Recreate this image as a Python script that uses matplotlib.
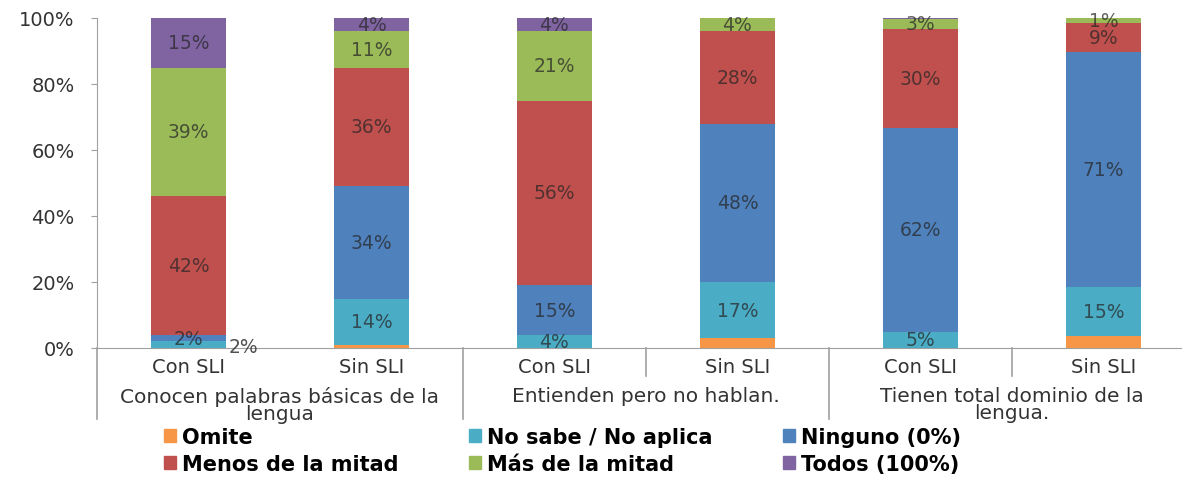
import matplotlib.pyplot as plt
import numpy as np
from matplotlib.patches import Patch

# data
bar_labels = ['Con SLI', 'Sin SLI', 'Con SLI', 'Sin SLI', 'Con SLI', 'Sin SLI']
group_labels = ['Conocen palabras básicas de la\nlengua',
                'Entienden pero no hablan.',
                'Tienen total dominio de la\nlengua.']
series_names = ['Omite', 'No sabe / No aplica', 'Ninguno (0%)',
                'Menos de la mitad', 'Más de la mitad', 'Todos (100%)']
omite = [0, 1, 0, 3, 0, 3.6]
no_sabe = [2, 14, 4, 17, 5, 15]
ninguno = [2, 34, 15, 48, 61.7, 71]
menos = [42, 36, 56, 28, 30, 9]
mas = [39, 11, 21, 4, 3, 1.4]
todos = [15, 4, 4, 0, 0.3, 0]

colors = ['#F79646', '#4BACC6', '#4F81BD', '#C0504D', '#9BBB59', '#8064A2']
series = [omite, no_sabe, ninguno, menos, mas, todos]

plt.rcParams['font.family'] = ['DejaVu Sans']

fig = plt.figure(figsize=(11.82, 4.85), dpi=100)
ax = fig.add_axes([97/1182, 1 - 349/485, 1 - 97/1182, 330/485])

x = np.arange(len(bar_labels))
bottom = np.zeros(len(x))
for k, vals in enumerate(series):
    vals = np.array(vals, dtype=float)
    ax.bar(x, vals, bottom=bottom, width=0.41, color=colors[k], linewidth=0)
    if k > 0:
        for i, v in enumerate(vals):
            if v < 1:
                continue
            if v < 3 and k == 1 and i == 0:
                # small label placed outside the bar
                ax.text(i + 0.3, bottom[i] + v / 2 - 0.6, '%.0f%%' % v,
                        ha='center', va='center', fontsize=13.5,
                        color='#262626', alpha=0.8)
            else:
                ax.text(i, bottom[i] + v / 2, '%.0f%%' % v, ha='center',
                        va='center', fontsize=13.5, color='#262626',
                        alpha=0.72)
    bottom += vals

ax.set_xlim(-0.5, 5.43)
ax.set_ylim(0, 100)
ax.set_yticks(np.arange(0, 101, 20))
ax.set_yticklabels(['%d%%' % t for t in range(0, 101, 20)], fontsize=14,
                   color='#333333')
ax.tick_params(axis='y', length=4, color='#A0A0A0', pad=12)
ax.set_xticks([])
for s in ['top', 'right']:
    ax.spines[s].set_visible(False)
ax.spines['left'].set_color('#A0A0A0')
ax.spines['bottom'].set_color('#A0A0A0')
ax.spines['left'].set_bounds(0, 100)

trans = ax.get_xaxis_transform()
# left axis extends down through the category labels
ax.plot([-0.5, -0.5], [0, -0.215], transform=trans, color='#A0A0A0',
        lw=1.2, clip_on=False)
for xs in [1.5, 3.5]:
    ax.plot([xs, xs], [0, -0.215], transform=trans, color='#A0A0A0',
            lw=1.2, clip_on=False)
for xs in [2.5, 4.5]:
    ax.plot([xs, xs], [0, -0.085], transform=trans, color='#A0A0A0',
            lw=1.2, clip_on=False)

for i, lab in enumerate(bar_labels):
    ax.text(i, -0.055, lab, transform=trans, ha='center', va='center',
            fontsize=14, color='#333333')
for g, lab in enumerate(group_labels):
    ax.text(2 * g + 0.5, -0.115, lab, transform=trans, ha='center', va='top',
            fontsize=14.5, color='#333333', linespacing=0.9)

order = [0, 3, 1, 4, 2, 5]
handles = [Patch(color=colors[k], label=series_names[k]) for k in order]
leg = fig.legend(handles=handles, ncol=3, loc='upper left',
                 bbox_to_anchor=(0.123, 0.157), frameon=False,
                 prop={'size': 15, 'weight': 'bold'},
                 handlelength=0.55, handleheight=0.55, handletextpad=0.3,
                 columnspacing=3.4, labelspacing=0.35)

fig.savefig('out.png', dpi=100)
